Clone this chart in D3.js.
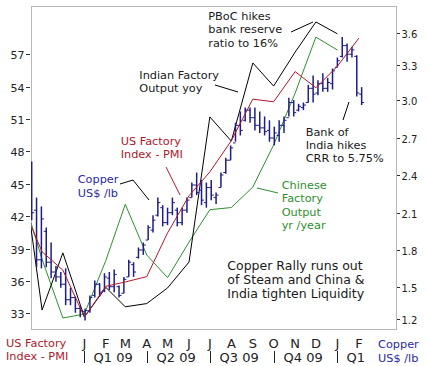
<!DOCTYPE html>
<html><head><meta charset="utf-8">
<script src="https://cdn.jsdelivr.net/npm/d3@7"></script>
<style>
html,body{margin:0;padding:0;background:#fff;}
svg{display:block;font-family:"DejaVu Sans",Verdana,sans-serif;}
</style></head>
<body>
<svg id="chart" width="428" height="366"></svg>
<script>
// ---------- DATA ----------
const monthDates = ["2008-10-16","2008-11-01","2008-12-01","2009-01-01","2009-02-01","2009-03-01","2009-04-01","2009-05-01","2009-06-01","2009-07-01","2009-08-01","2009-09-01","2009-10-01","2009-11-01","2009-12-01","2010-01-01","2010-02-01"];
const usPMI       = [41.1,38.7,37.0,32.65,35.5,35.9,36.4,40.45,43.9,46.1,49.0,52.85,52.6,55.4,53.9,55.9,58.5];
const indiaOutput = [40.9,33.3,38.6,32.65,35.4,33.6,33.9,35.35,37.75,51.2,48.96,56.2,54.06,57.2,60.0,58.9];
const chinaOutput = [41.4,38.0,32.56,32.93,37.9,43.1,38.4,36.3,39.6,42.6,42.8,44.7,48.6,53.4,58.6,57.4];

const copperStart = "2008-10-17"; // weekly bars
const copperHigh  = [2.51,2.22,2.15,1.98,1.86,1.67,1.62,1.65,1.49,1.41,1.33,1.30,1.42,1.55,1.53,1.61,1.62,1.64,1.51,1.58,1.72,1.70,1.82,1.86,2.00,2.08,2.22,2.16,2.14,2.22,2.14,2.14,2.22,2.34,2.42,2.36,2.34,2.36,2.26,2.42,2.54,2.64,2.82,2.91,2.94,2.94,2.94,2.91,2.87,2.84,2.79,2.84,2.87,3.02,3.00,2.97,2.98,3.13,3.21,3.17,3.23,3.19,3.27,3.37,3.56,3.50,3.47,3.39,3.11];
const copperLow   = [2.04,1.66,1.65,1.66,1.57,1.54,1.49,1.33,1.33,1.26,1.22,1.19,1.26,1.40,1.41,1.45,1.47,1.45,1.40,1.44,1.58,1.58,1.73,1.76,1.88,1.94,2.07,1.99,2.00,2.08,1.99,2.00,2.10,2.22,2.24,2.16,2.14,2.20,2.17,2.30,2.41,2.52,2.67,2.72,2.83,2.82,2.76,2.74,2.72,2.67,2.64,2.67,2.74,2.87,2.87,2.91,2.92,2.98,2.98,3.04,3.07,3.07,3.09,3.28,3.37,3.33,3.37,3.03,2.96];
const copperOpen  = [2.45,2.12,1.72,1.95,1.70,1.62,1.58,1.52,1.38,1.40,1.30,1.27,1.28,1.42,1.52,1.46,1.57,1.50,1.50,1.44,1.58,1.68,1.74,1.80,1.88,1.96,2.08,2.14,2.02,2.10,2.12,2.02,2.12,2.22,2.32,2.28,2.18,2.30,2.22,2.30,2.42,2.52,2.66,2.80,2.84,2.92,2.86,2.80,2.78,2.76,2.70,2.72,2.80,2.86,2.98,2.92,2.94,2.98,3.10,3.06,3.14,3.10,3.14,3.28,3.38,3.48,3.40,3.38,3.05];
const copperClose = [2.10,1.72,2.05,1.70,1.62,1.58,1.52,1.38,1.40,1.30,1.28,1.28,1.40,1.52,1.45,1.58,1.50,1.60,1.42,1.56,1.70,1.62,1.80,1.84,1.98,2.04,2.18,2.02,2.10,2.18,2.02,2.12,2.20,2.32,2.26,2.20,2.30,2.24,2.24,2.40,2.52,2.62,2.80,2.76,2.92,2.86,2.80,2.78,2.75,2.70,2.74,2.80,2.84,2.98,2.90,2.95,2.96,3.10,3.05,3.14,3.10,3.15,3.25,3.34,3.48,3.40,3.44,3.06,2.98];

const leftTicks  = [33,36,39,42,45,48,51,54,57];
const rightTicks = [1.2,1.5,1.8,2.1,2.4,2.7,3.0,3.3,3.6];
const monthLabels = ["J","F","M","A","M","J","J","A","S","O","N","D","J","F"];
const monthTickDates = ["2009-01-01","2009-02-01","2009-03-01","2009-04-01","2009-05-01","2009-06-01","2009-07-01","2009-08-01","2009-09-01","2009-10-01","2009-11-01","2009-12-01","2010-01-01","2010-02-01"];
const quarterLabels = ["Q1 09","Q2 09","Q3 09","Q4 09","Q1"];
const quarterDates  = ["2009-01-01","2009-04-01","2009-07-01","2009-10-01","2010-01-01"];

// ---------- LAYOUT ----------
const L = 31, R = 397, T = 6, B = 330;
const parse = d3.timeParse("%Y-%m-%d");
const svg = d3.select("#chart");

const x = d3.scaleTime().domain([parse("2008-10-16"), parse("2010-03-28")]).range([L, R]);
const yL = d3.scaleLinear().domain([31.45, 61.48]).range([B, T]);
const yR = d3.scaleLinear().domain(rightTicks).range([319.3,286.7,250,212.7,175,138,100,65,32.7]);

svg.append("defs").append("clipPath").attr("id","plot")
  .append("rect").attr("x",L).attr("y",T).attr("width",R-L).attr("height",B-T);

// frame
svg.append("rect").attr("x",L+0.5).attr("y",T+0.5).attr("width",R-L-1).attr("height",B-T-1)
  .attr("fill","none").attr("stroke","#b8b8b8").attr("stroke-width",1);

// left axis
const la = svg.append("g");
leftTicks.forEach(v => {
  const yy = Math.round(yL(v)) + 0.5;
  la.append("line").attr("x1",26).attr("x2",30).attr("y1",yy).attr("y2",yy).attr("stroke","#333");
  la.append("text").attr("x",24.5).attr("y",yy+4).attr("text-anchor","end")
    .attr("font-size",11).attr("fill","#222").text(v);
});
// right axis
const ra = svg.append("g");
rightTicks.forEach(v => {
  const yy = Math.round(yR(v)) + 0.5;
  ra.append("line").attr("x1",397).attr("x2",400).attr("y1",yy).attr("y2",yy).attr("stroke","#333");
  ra.append("text").attr("x",401.5).attr("y",yy+4).attr("font-size",10).attr("fill","#222").text(v.toFixed(1));
});

// bottom month labels
const bx = svg.append("g");
monthLabels.forEach((m,i) => {
  bx.append("text").attr("x", x(parse(monthTickDates[i]))).attr("y",348)
    .attr("text-anchor","middle").attr("font-size",13).attr("fill","#222").text(m);
});
quarterDates.forEach((d,i) => {
  const xx = Math.round(x(parse(d))) + 0.5;
  bx.append("line").attr("x1",xx).attr("x2",xx).attr("y1",351).attr("y2",363).attr("stroke","#222");
  bx.append("text").attr("x", xx + 9).attr("y",362).attr("font-size",13).attr("fill","#222").text(quarterLabels[i]);
});

// bottom corner labels
const red = "#b0182c", green = "#2f8f2f", navy = "#1e1e86", blueTxt = "#2a2aa0";
function multiText(xp, y0, lines, size, lh, color) {
  const t = svg.append("text").attr("font-size",size).attr("fill",color);
  lines.forEach((s,i) => t.append("tspan").attr("x",xp).attr("y",y0 + i*lh).text(s));
}
multiText(6, 347, ["US Factory","Index - PMI"], 11.3, 13, red);
multiText(378, 348, ["Copper","US$ /lb"], 11.3, 13.5, blueTxt);

// ---------- MARKS ----------
const plot = svg.append("g").attr("clip-path","url(#plot)");
const mDates = monthDates.map(parse);
const lineL = d3.line().x(d => x(d[0])).y(d => yL(d[1]));

plot.append("path").datum(chinaOutput.map((v,i)=>[mDates[i],v]))
  .attr("d", lineL).attr("fill","none").attr("stroke",green).attr("stroke-width",1);
plot.append("path").datum(indiaOutput.map((v,i)=>[mDates[i],v]))
  .attr("d", lineL).attr("fill","none").attr("stroke","#000").attr("stroke-width",1);

// copper bars
const start = parse(copperStart);
const bars = plot.append("g").attr("stroke",navy).attr("stroke-width",1.5);
copperHigh.forEach((h,i) => {
  const xx = x(d3.timeDay.offset(start, 7*i));
  bars.append("line").attr("x1",xx).attr("x2",xx).attr("y1",yR(h)).attr("y2",yR(copperLow[i]));
  bars.append("line").attr("x1",xx-2.5).attr("x2",xx).attr("y1",yR(copperOpen[i])).attr("y2",yR(copperOpen[i])).attr("stroke-width",1);
  bars.append("line").attr("x1",xx).attr("x2",xx+2.5).attr("y1",yR(copperClose[i])).attr("y2",yR(copperClose[i])).attr("stroke-width",1);
});

plot.append("path").datum(usPMI.map((v,i)=>[mDates[i],v]))
  .attr("d", lineL).attr("fill","none").attr("stroke",red).attr("stroke-width",1);

// ---------- ANNOTATIONS ----------
const txt = "#1a1a1a";
multiText(208.3, 20, ["PBoC hikes","bank reserve","ratio to 16%"], 11.3, 13.3, txt);
multiText(139.3, 79, ["Indian Factory","Output yoy"], 11.3, 13.3, txt);
multiText(120.7, 145, ["US Factory","Index - PMI"], 11.3, 13.3, red);
multiText(77.7, 183, ["Copper","US$ /lb"], 11.3, 13.5, blueTxt);
multiText(281.7, 189, ["Chinese","Factory","Output","yr /year"], 11.3, 13.4, green);
multiText(305.7, 136, ["Bank of","India hikes","CRR to 5.75%"], 11.3, 13, txt);
multiText(227.3, 270, ["Copper Rally runs out","of Steam and China &","India tighten Liquidity"], 12.5, 14, txt);

function pointer(pts, color) {
  svg.append("path").attr("d", d3.line()(pts)).attr("fill","none").attr("stroke",color).attr("stroke-width",1);
}
pointer([[291,32],[313,22]], "#000");
pointer([[215,85],[238,92]], "#000");
pointer([[166,167],[180,195]], red);
pointer([[120,184],[133,180],[149,200]], "#000");
pointer([[257,188],[278,193]], green);
pointer([[349,102],[343,120]], "#000");
</script>
</body></html>
